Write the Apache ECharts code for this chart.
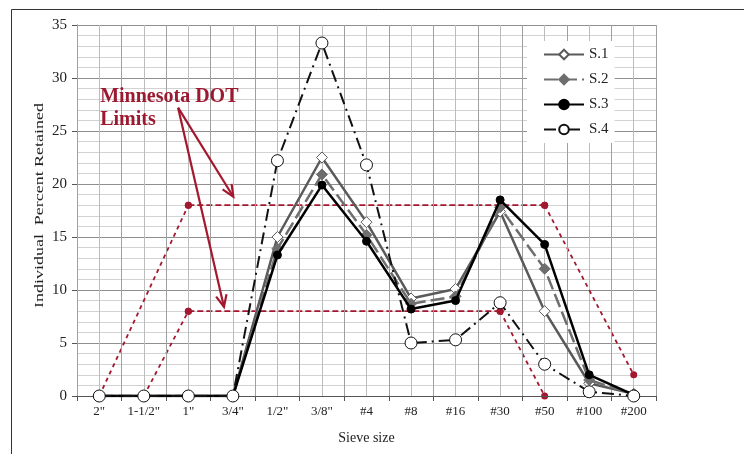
<!DOCTYPE html>
<html>
<head>
<meta charset="utf-8">
<script src="https://cdn.jsdelivr.net/npm/echarts@6/dist/echarts.min.js"></script>
<style>
  html, body { margin: 0; padding: 0; background: #fff; }
  #chart { width: 744px; height: 454px; }
</style>
</head>
<body>
<div id="chart"></div>
<script>
// Sieve sizes along the x axis
const sieveSizes = ['2"', '1-1/2"', '1"', '3/4"', '1/2"', '3/8"', '#4', '#8', '#16', '#30', '#50', '#100', '#200'];

// Individual percent retained on each sieve, per sample
const s1 = [0, 0, 0, 0, 15.0, 22.5, 16.4, 9.2, 10.1, 17.4, 8.0, 1.2, 0.2];
const s2 = [0, 0, 0, 0, 13.9, 20.9, 15.2, 8.7, 9.4, 17.8, 12.0, 1.5, 0.2];
const s3 = [0, 0, 0, 0, 13.3, 19.9, 14.6, 8.2, 9.0, 18.5, 14.3, 2.0, 0.1];
const s4 = [0, 0, 0, 0, 22.2, 33.3, 21.8, 5.0, 5.3, 8.8, 3.0, 0.4, 0];

// Minnesota DOT gradation band break points (null = no break point on that sieve)
const dotUpper = [0, null, 18, null, null, null, null, null, null, null, 18, null, 2];
const dotLower = [null, 0, 8, null, null, null, null, null, null, 8, 0, null, null];

// Y axis ticks
const yMin = 0, yMax = 35, yStep = 5;

const serif = '"Liberation Serif", "Times New Roman", serif';
const limitRed = '#a3182f';

// One series per segment of a limit line: flat runs get long dashes, ramps short ones
function limitSeries(vals, name) {
  const pts = [];
  vals.forEach((v, i) => { if (v != null) pts.push([i, v]); });
  const out = [];
  for (let k = 0; k < pts.length - 1; k++) {
    const a = pts[k], b = pts[k + 1];
    const flat = a[1] === b[1];
    out.push({
      name: name + '-' + k,
      type: 'line',
      data: [a, b],
      symbol: 'circle',
      symbolSize: 7,
      itemStyle: { color: limitRed },
      lineStyle: { color: limitRed, width: 1.8, type: flat ? [6, 3] : [4, 4] },
      z: 1,
      silent: true
    });
  }
  return out;
}

const chart = echarts.init(document.getElementById('chart'), null, { renderer: 'canvas' });

const option = {
  backgroundColor: '#fff',
  animation: false,
  grid: { left: 77, right: 88, top: 25, bottom: 58 },
  legend: {
    data: ['S.1', 'S.2', 'S.3', 'S.4'],
    orient: 'vertical',
    left: 527,
    top: 41,
    backgroundColor: '#fff',
    padding: [6, 6, 6, 16],
    itemWidth: 40,
    itemHeight: 12,
    itemGap: 10,
    textStyle: { fontFamily: serif, fontSize: 15, color: '#222' }
  },
  xAxis: [
    {
      type: 'category',
      data: sieveSizes,
      boundaryGap: true,
      name: 'Sieve size',
      nameLocation: 'middle',
      nameGap: 35,
      nameTextStyle: { fontFamily: serif, fontSize: 14, color: '#222' },
      axisLine: { onZero: false, lineStyle: { color: '#555', width: 1 } },
      axisTick: { show: true, length: 5, lineStyle: { color: '#555' } },
      axisLabel: { fontFamily: serif, fontSize: 13, color: '#222', margin: 9, interval: 0 },
      splitLine: { show: true, interval: 0, lineStyle: { color: '#a0a0a0', width: 1 } },
      z: 3
    },
    {
      // finer vertical grid through category centres and boundaries
      type: 'value',
      min: -0.5,
      max: 12.5,
      interval: 0.5,
      position: 'bottom',
      axisLine: { show: false, onZero: false },
      axisTick: { show: false },
      axisLabel: { show: false },
      splitLine: { show: true, lineStyle: { color: '#bcbcbc', width: 1 } }
    }
  ],
  yAxis: {
    type: 'value',
    min: yMin,
    max: yMax,
    interval: yStep,
    axisLine: { show: true, onZero: false, lineStyle: { color: '#555', width: 1 } },
    axisTick: { show: true, length: 5, lineStyle: { color: '#555' } },
    axisLabel: { fontFamily: serif, fontSize: 15, color: '#222', margin: 10 },
    splitLine: { show: true, lineStyle: { color: '#8f8f8f', width: 1 } },
    minorTick: { show: false, splitNumber: 5 },
    minorSplitLine: { show: true, lineStyle: { color: '#d2d2d2', width: 1 } }
  },
  series: [
    ...limitSeries(dotUpper, 'upper'),
    ...limitSeries(dotLower, 'lower'),
    {
      name: 'S.1', type: 'line', data: s1, z: 3,
      symbol: 'diamond', symbolSize: 11,
      itemStyle: { color: '#fff', borderColor: '#5a5a5a', borderWidth: 1 },
      lineStyle: { color: '#5a5a5a', width: 2.5 }
    },
    {
      name: 'S.2', type: 'line', data: s2, z: 4,
      symbol: 'diamond', symbolSize: 11,
      itemStyle: { color: '#6e6e6e', borderColor: '#6e6e6e', borderWidth: 1 },
      lineStyle: { color: '#6e6e6e', width: 2.5, type: [14, 5] }
    },
    {
      name: 'S.3', type: 'line', data: s3, z: 5,
      symbol: 'circle', symbolSize: 8,
      itemStyle: { color: '#000', borderColor: '#000', borderWidth: 1 },
      lineStyle: { color: '#000', width: 2.5 }
    },
    {
      name: 'S.4', type: 'line', data: s4, z: 6,
      symbol: 'circle', symbolSize: 12,
      itemStyle: { color: '#fff', borderColor: '#111', borderWidth: 1 },
      lineStyle: { color: '#111', width: 2, type: [12, 5, 2, 5] }
    }
  ]
};

chart.setOption(option);

// Annotation: text and arrows placed in data space (fractional x on the fine value axis)
function px(x, y) {
  return chart.convertToPixel({ xAxisIndex: 1, yAxisIndex: 0 }, [x, y]);
}

const annText = ['Minnesota DOT', 'Limits'];
const annAnchor = [0.02, 29.3];
const arrowFrom = [1.77, 27.2];
const arrowTips = [[3.01, 18.8], [2.80, 8.4]];

function arrow(from, to) {
  const a = px(from[0], from[1]);
  const b = px(to[0], to[1]);
  const ang = Math.atan2(b[1] - a[1], b[0] - a[0]);
  const len = 13, spread = 0.42;
  const h1 = [b[0] - len * Math.cos(ang - spread), b[1] - len * Math.sin(ang - spread)];
  const h2 = [b[0] - len * Math.cos(ang + spread), b[1] - len * Math.sin(ang + spread)];
  return [
    { type: 'polyline', shape: { points: [a, b] }, style: { stroke: limitRed, lineWidth: 2.2, fill: null }, z: 20 },
    { type: 'polyline', shape: { points: [h1, b, h2] }, style: { stroke: limitRed, lineWidth: 2.2, fill: null }, z: 20 }
  ];
}

const textPos = px(annAnchor[0], annAnchor[1]);
const gridRect = chart.getModel().getComponent('grid').coordinateSystem.getRect();

chart.setOption({
  graphic: [
    // outer frame
    {
      type: 'rect', shape: { x: 11.5, y: 9.5, width: 900, height: 600 },
      style: { stroke: '#333', lineWidth: 1, fill: null }, z: 0, silent: true
    },
    // y axis title, stretched along its length
    {
      type: 'text',
      x: 40, y: gridRect.y + gridRect.height / 2 - 5,
      rotation: Math.PI / 2,
      scaleX: 1.38,
      style: {
        text: 'Individual  Percent Retained',
        font: '13px ' + serif,
        fill: '#222',
        textAlign: 'center',
        textVerticalAlign: 'middle'
      },
      z: 10
    },
    {
      type: 'text',
      x: textPos[0], y: textPos[1],
      style: {
        text: annText.join('\n'),
        font: 'bold 20px ' + serif,
        fill: '#9b1a31',
        lineHeight: 23,
        textAlign: 'left',
        textVerticalAlign: 'top'
      },
      z: 20
    },
    ...arrowTips.flatMap(t => arrow(arrowFrom, t))
  ]
});
</script>
</body>
</html>
